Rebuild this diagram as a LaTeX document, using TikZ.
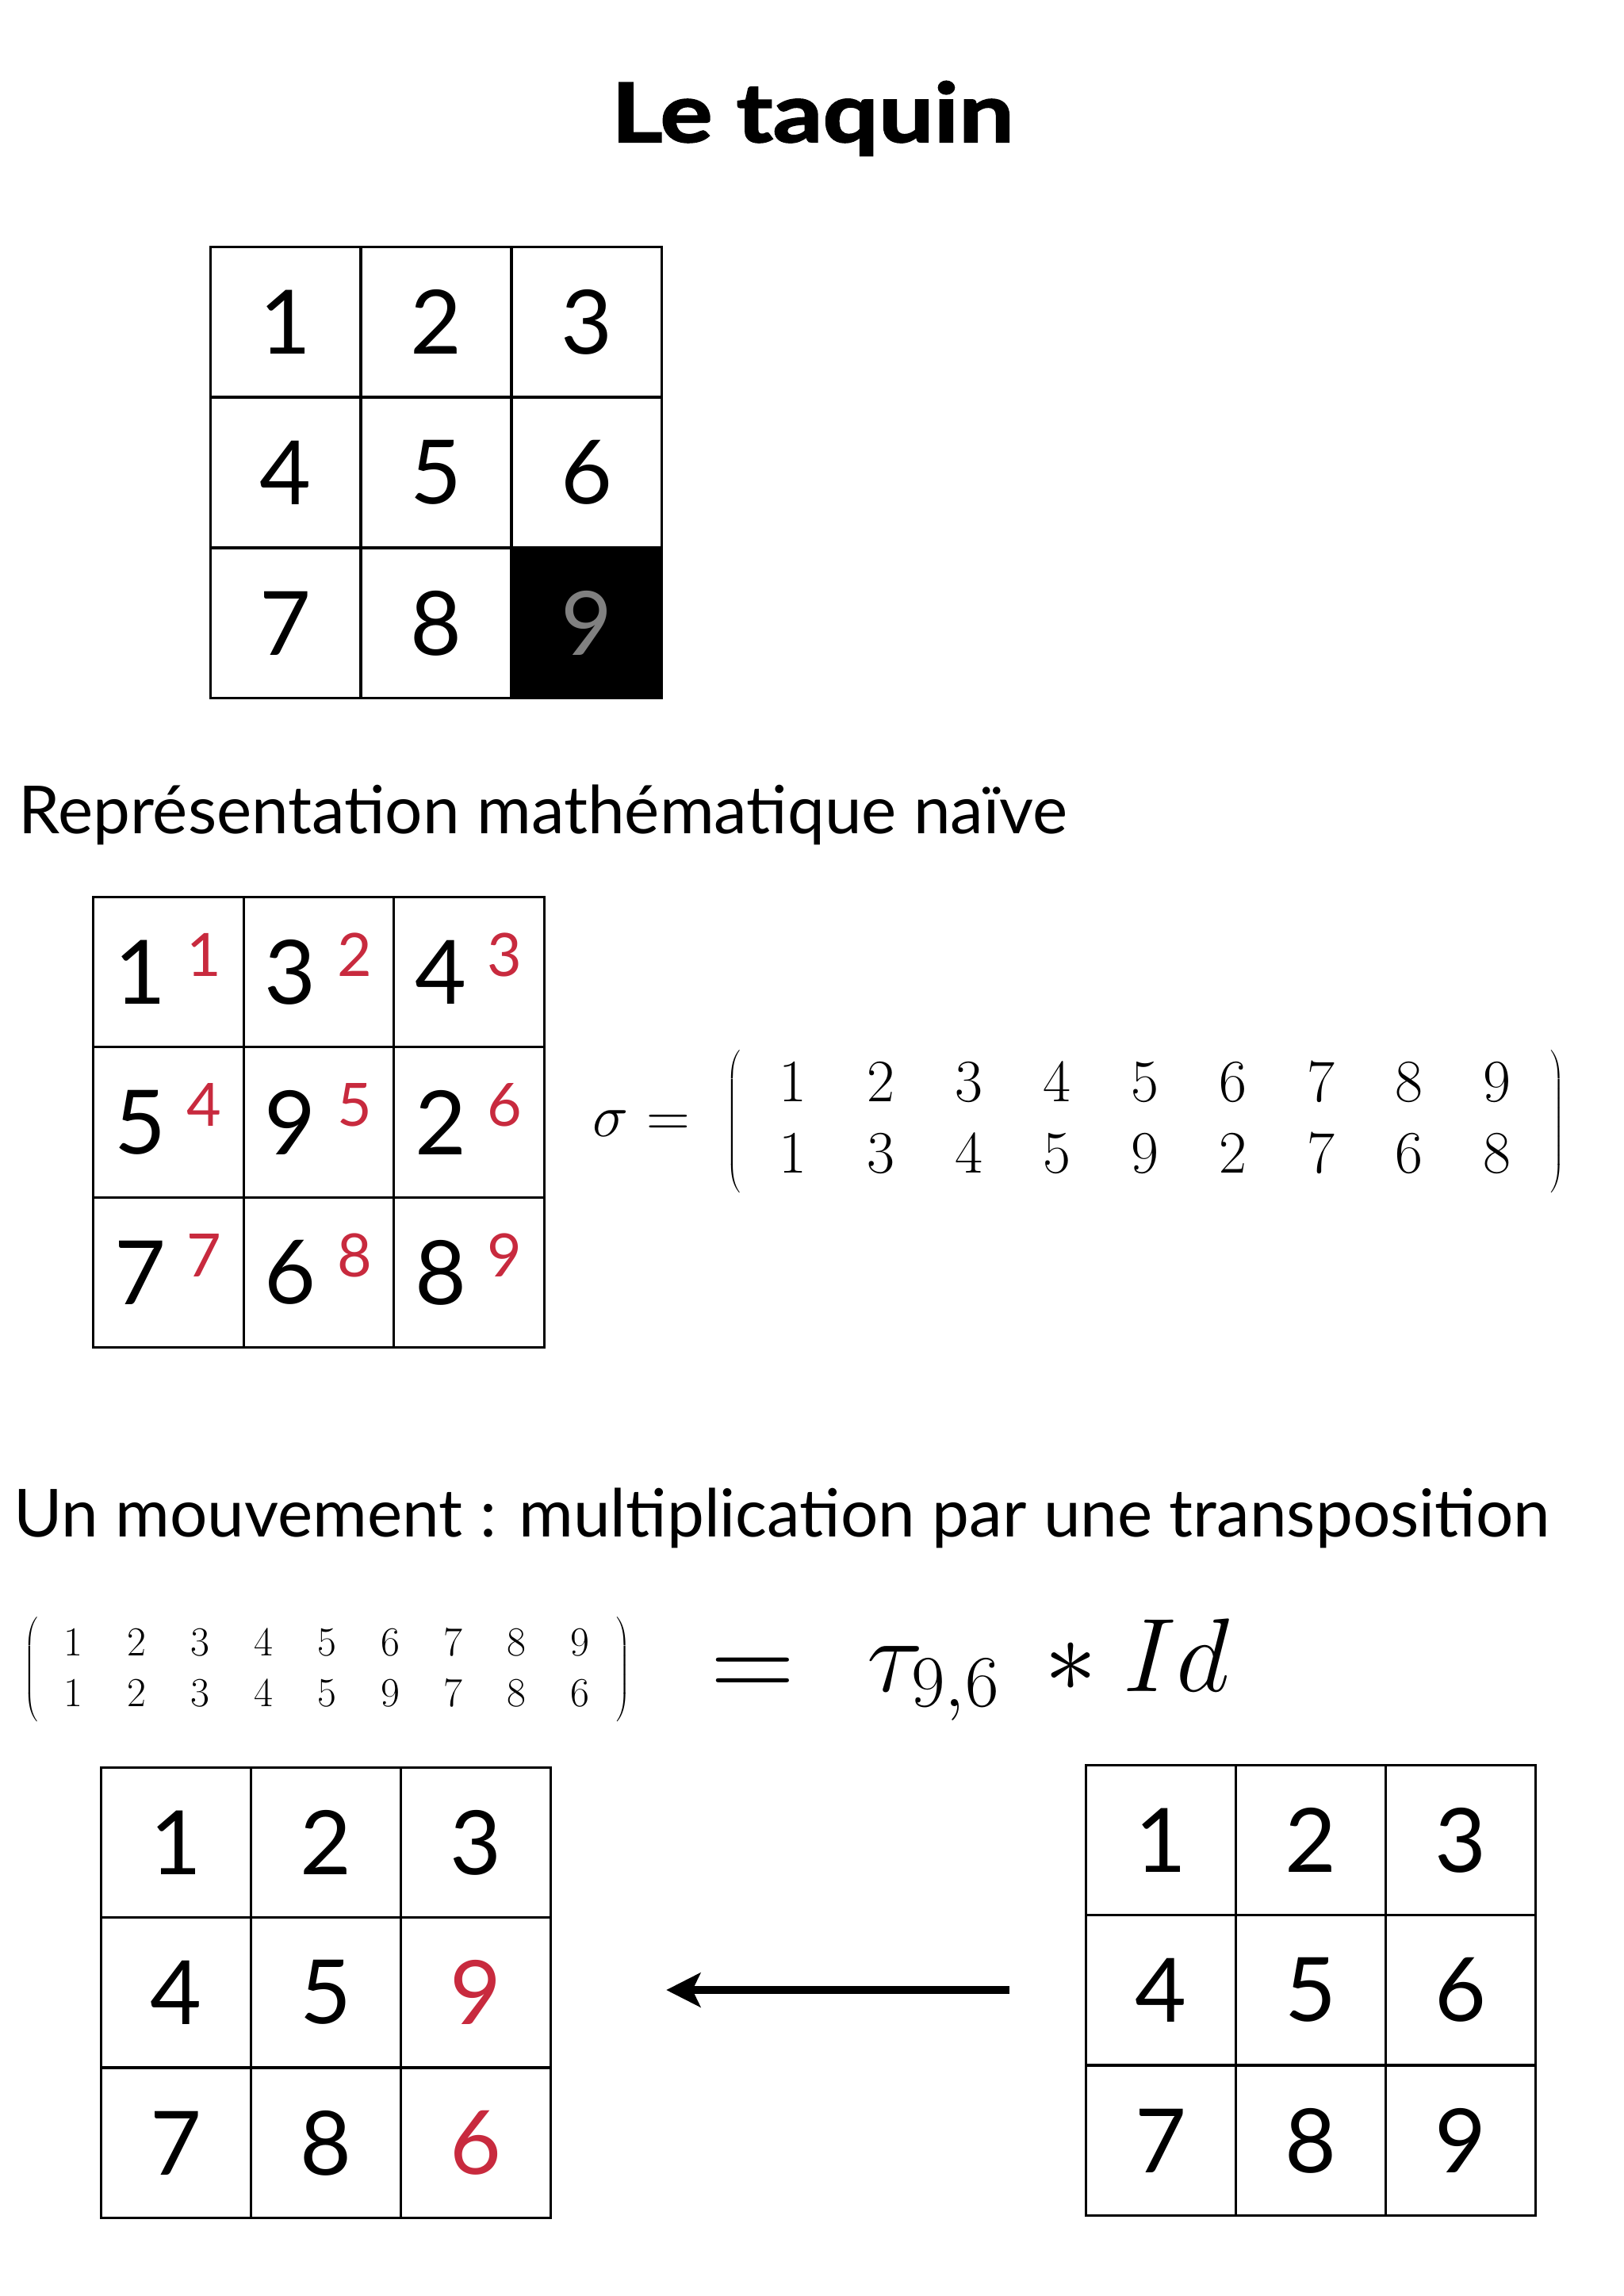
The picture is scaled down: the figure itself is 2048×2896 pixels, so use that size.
\RequirePackage{fix-cm}
\documentclass[tikz,border=0pt]{standalone}
\usepackage[no-math]{fontspec}
\newfontfamily\gill{Lato}
\newfontfamily\gilltitle[FakeStretch=1.2,BoldFeatures={FakeStretch=1.2,FakeBold=2}]{Lato}
\usetikzlibrary{arrows.meta,calc}
\definecolor{tred}{RGB}{200,42,62}
\definecolor{tgray}{RGB}{128,128,128}
\newcommand{\bigparen}[2]{$\nulldelimiterspace=0pt\left#1\vcenter{\hbox{\rule{0pt}{#2}}}\right.$}
\begin{document}
\begin{tikzpicture}[x=0.5pt,y=-0.5pt,
  cell/.style={draw=black, line width=1.5pt, minimum width=94.75pt, minimum height=94.75pt, inner sep=0pt, font=\gill\fontsize{56}{56}\selectfont},
  blackcell/.style={cell, fill=black, text=tgray},
  redtxt/.style={text=tred},
  bigdig/.style={inner sep=0pt, font=\gill\fontsize{56}{56}\selectfont},
  smalldig/.style={inner sep=0pt, text=tred, font=\gill\fontsize{37.7}{40}\selectfont},
  heading/.style={anchor=base west, inner sep=0pt, font=\gill\fontsize{41.8}{50}\selectfont},
  sigdig/.style={anchor=base, inner sep=0pt, font=\fontsize{38}{45}\selectfont},
  sigparen/.style={anchor=center, inner sep=0pt, font=\fontsize{41}{49}\selectfont},
  smdig/.style={anchor=base, inner sep=0pt, font=\fontsize{26}{31}\selectfont},
  smparen/.style={anchor=center, inner sep=0pt, font=\fontsize{31}{37}\selectfont},
  eqfont/.style={inner sep=0pt, font=\fontsize{66}{79}\selectfont},
  arr/.style={line width=5pt, -{Stealth[length=21.5pt,width=21.5pt,inset=5pt]}}]
\fill[white] (0,0) rectangle (2048,2896);
\path[use as bounding box] (0,0) rectangle (2048,2896);

% title
\node[anchor=base, inner sep=0pt, font=\gilltitle\bfseries\fontsize{51.6}{60}\selectfont] (title) at (1025,179) {Le taquin};

% grid 1
\node[cell] (a11) at (360,406) {1};
\node[cell] (a12) at (550,406) {2};
\node[cell] (a13) at (740,406) {3};
\node[cell] (a21) at (360,596) {4};
\node[cell] (a22) at (550,596) {5};
\node[cell] (a23) at (740,596) {6};
\node[cell] (a31) at (360,786) {7};
\node[cell] (a32) at (550,786) {8};
\node[blackcell] (a33) at (740,786) {9};

% heading 1
\node[heading] (h1) at (23,1051) {Représentation mathématique naïve};

% grid 2
\node[cell] (b11) at (212.5,1226) {};
\node[cell] (b12) at (402,1226) {};
\node[cell] (b13) at (591.5,1226) {};
\node[cell] (b21) at (212.5,1415.5) {};
\node[cell] (b22) at (402,1415.5) {};
\node[cell] (b23) at (591.5,1415.5) {};
\node[cell] (b31) at (212.5,1605) {};
\node[cell] (b32) at (402,1605) {};
\node[cell] (b33) at (591.5,1605) {};
\foreach \n/\v/\w in {b11/1/1,b12/3/2,b13/4/3,b21/5/4,b22/9/5,b23/2/6,b31/7/7,b32/6/8,b33/8/9}{
  \node[bigdig] (\n-v) at ($(\n.center)+(-36,0)$) {\v};
  \node[smalldig] (\n-w) at ($(\n.center)+(45,-22)$) {\w};
}

% sigma = matrix
\node[sigdig] (sig) at (770,1433) {$\sigma$};
\node[sigdig] (sigeq) at (842.5,1433) {$=$};
\node[sigparen] (slp) at (925,1415) {\bigparen{(}{92pt}};
\node[sigparen] (srp) at (1964.5,1415) {\bigparen{)}{92pt}};
\foreach \v [count=\i from 0] in {1,2,3,4,5,6,7,8,9}
  \node[sigdig] (st\i) at (1000+111*\i,1389) {$\v$};
\foreach \v [count=\i from 0] in {1,3,4,5,9,2,7,6,8}
  \node[sigdig] (sb\i) at (1000+111*\i,1479) {$\v$};

% heading 2
\node[heading] (h2) at (17,1938) {Un mouvement : multiplication par une transposition};

% small matrix and equation
\node[smparen] (mlp) at (39,2106) {\bigparen{(}{68pt}};
\node[smparen] (mrp) at (786.5,2106) {\bigparen{)}{68pt}};
\foreach \v [count=\i from 0] in {1,2,3,4,5,6,7,8,9}
  \node[smdig] (mt\i) at (92.5+79.9*\i,2088) {$\v$};
\foreach \v [count=\i from 0] in {1,2,3,4,5,9,7,8,6}
  \node[smdig] (mb\i) at (92.5+79.9*\i,2152) {$\v$};
\node[anchor=base, inner sep=0pt, font=\fontsize{73.5}{88}\selectfont] (eq) at (949,2143) {$=$};
\node[eqfont, anchor=base west] (tau) at (1093,2133) {$\tau_{9,6}$};
\node[eqfont, anchor=base] (star) at (1350,2133) {$*$};
\node[eqfont, anchor=base east] (id) at (1551,2133) {$Id$};

% grid 3
\node[cell] (l11) at (222,2324) {1};
\node[cell] (l12) at (411,2324) {2};
\node[cell] (l13) at (600,2324) {3};
\node[cell] (l21) at (222,2513) {4};
\node[cell] (l22) at (411,2513) {5};
\node[cell, redtxt] (l23) at (600,2513) {9};
\node[cell] (l31) at (222,2703) {7};
\node[cell] (l32) at (411,2703) {8};
\node[cell, redtxt] (l33) at (600,2703) {6};

% grid 4
\node[cell] (r11) at (1464,2321) {1};
\node[cell] (r12) at (1653,2321) {2};
\node[cell] (r13) at (1842,2321) {3};
\node[cell] (r21) at (1464,2510) {4};
\node[cell] (r22) at (1653,2510) {5};
\node[cell] (r23) at (1842,2510) {6};
\node[cell] (r31) at (1464,2700) {7};
\node[cell] (r32) at (1653,2700) {8};
\node[cell] (r33) at (1842,2700) {9};

% arrow
\draw[arr, shorten <=47.5pt, shorten >=72pt] (r21.west) -- (r21.west -| l23.east);
\end{tikzpicture}
\end{document}
